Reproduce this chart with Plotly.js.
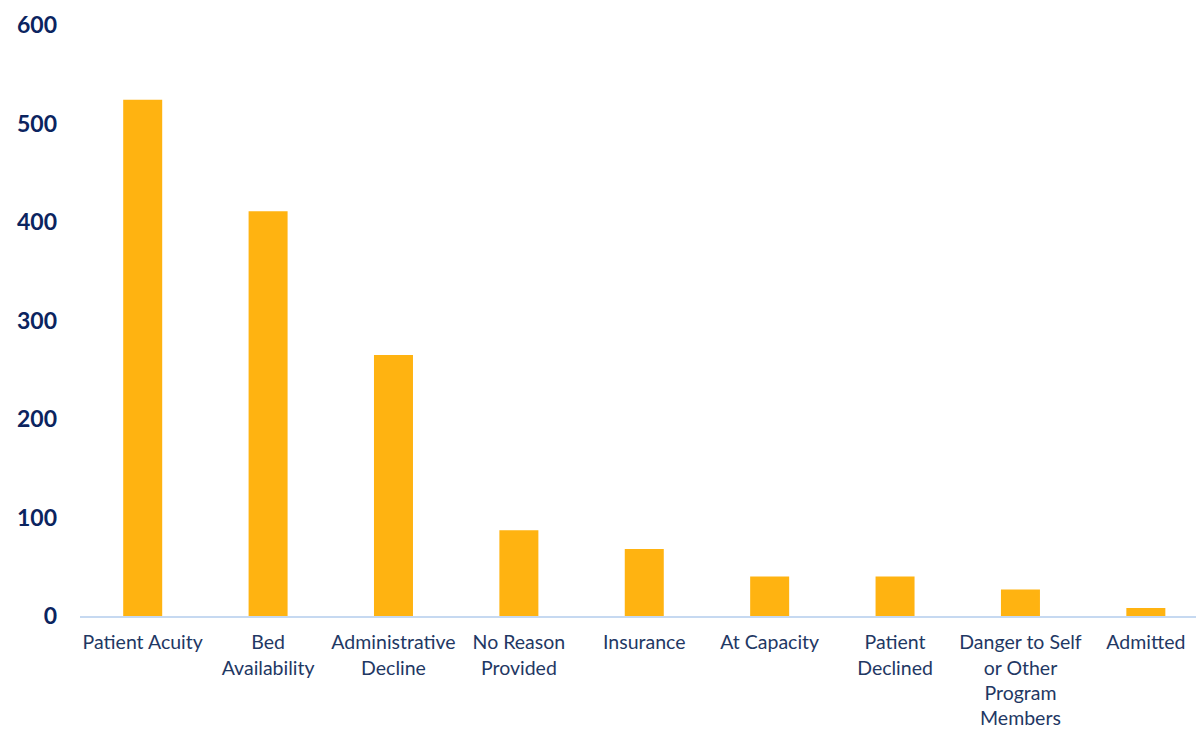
<!DOCTYPE html>
<html>
<head>
<meta charset="utf-8">
<script src="https://cdn.plot.ly/plotly-3.0.1.min.js"></script>
<style>html,body{margin:0;padding:0;background:#fff;}#chart{width:1196px;height:729px;}</style>
</head>
<body>
<div id="chart"></div>
<script>
const categories = ["Patient Acuity", "Bed<br>Availability", "Administrative<br>Decline", "No Reason<br>Provided", "Insurance", "At Capacity", "Patient<br>Declined", "Danger to Self<br>or Other<br>Program<br>Members", "Admitted"];
const counts = [524, 411, 265, 87, 68, 40, 40, 27, 8];
const yTicks = [0, 100, 200, 300, 400, 500, 600];

const trace = {
  type: "bar",
  x: categories,
  y: counts,
  marker: {color: "#FFB311"},
  hoverinfo: "x+y"
};

const layout = {
  width: 1196,
  height: 729,
  margin: {l: 80, r: 0, t: 25, b: 113},
  paper_bgcolor: "#ffffff",
  plot_bgcolor: "#ffffff",
  bargap: 0.689,
  showlegend: false,
  xaxis: {
    range: [-0.5, 8.4],
    showline: true,
    linecolor: "#C6D9F1",
    linewidth: 2,
    showgrid: false,
    zeroline: false,
    ticks: "",
    tickangle: 0,
    ticklabelstandoff: 8,
    tickfont: {family: "Lato, 'Open Sans', sans-serif", size: 19.5, color: "#1F3864"}
  },
  yaxis: {
    range: [0, 600],
    tickvals: yTicks,
    ticktext: yTicks.map(String),
    showgrid: false,
    zeroline: false,
    showline: false,
    ticks: "",
    ticklabelstandoff: 22,
    tickfont: {family: "Lato, 'Open Sans', sans-serif", size: 23, color: "#0B2460", weight: "bold"}
  }
};

Plotly.newPlot("chart", [trace], layout, {displayModeBar: false, staticPlot: true});
</script>
</body>
</html>
